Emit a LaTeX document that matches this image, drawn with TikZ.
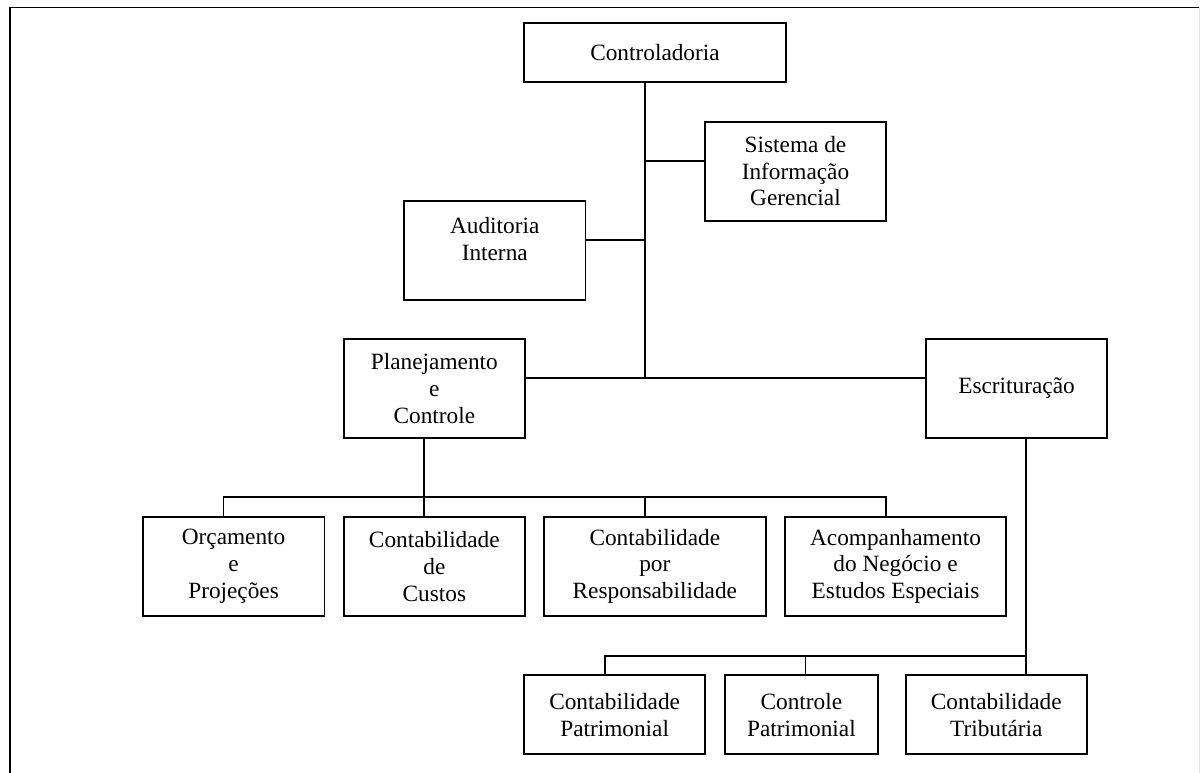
\documentclass[tikz,border=0pt]{standalone}
\usepackage{fontspec}
\setmainfont{Liberation Serif}
\begin{document}
\begin{tikzpicture}[x=1pt,y=-1pt,
  box/.style={draw,line width=1.8pt,inner sep=0pt,align=center,
    font=\fontsize{23.3}{26.7}\selectfont},
  link/.style={line width=1.8pt}]
\useasboundingbox (0,0) rectangle (1200,773);
% frame
\draw[line width=1.8pt] (9.6,773) -- (9.6,7.5) -- (1199,7.5);
\draw[line width=0.8pt,black!12] (1199,7.5) -- (1199,773);
% top level
\node[box,minimum width=262pt,minimum height=59pt] (ctrl) at (655,52.2) {Controladoria};
\node[box,minimum width=181pt,minimum height=99pt] (sig) at (795.5,171.2) {Sistema de\\Informação\\Gerencial};
\node[box,minimum width=181.5pt,minimum height=99.3pt] (aud) at (494.75,250.35) {};
\node[font=\fontsize{23.3}{26.7}\selectfont,align=center,inner sep=0pt] (audt) at (494.75,239) {Auditoria\\Interna};
\node[box,minimum width=181.3pt,minimum height=98.7pt] (plan) at (434.35,388.35) {Planejamento\\e\\Controle};
\node[box,minimum width=181pt,minimum height=98.7pt] (escr) at (1016.5,388.35) {Escrituração};
% second row
\node[box,minimum width=181.8pt,minimum height=99.3pt] (orc) at (233.6,566.35) {Orçamento\\e\\Projeções};
\node[box,minimum width=181.3pt,minimum height=99.3pt] (cus) at (434.35,566.35) {Contabilidade\\de\\Custos};
\node[box,minimum width=221.7pt,minimum height=99.3pt] (resp) at (654.85,566.35) {Contabilidade\\por\\Responsabilidade};
\node[box,minimum width=221pt,minimum height=99.3pt] (acom) at (895.5,566.35) {Acompanhamento\\do Negócio e\\Estudos Especiais};
% third row
\node[box,minimum width=180.7pt,minimum height=79pt] (cpat) at (614.65,714.8) {Contabilidade\\Patrimonial};
\node[box,minimum width=152.8pt,minimum height=79pt] (ctpat) at (801.4,714.8) {Controle\\Patrimonial};
\node[box,minimum width=181pt,minimum height=79pt] (trib) at (996.3,714.8) {Contabilidade\\Tributária};
% coordinates
\coordinate (t1) at (645,161);
\coordinate (t2) at (645,240);
\coordinate (t3) at (645,378);
\coordinate (b1) at (424,497.3);
\coordinate (b2) at (1026,655.7);
% trunk
\draw[link] (ctrl.south -| t1) -- (t3);
\draw[link] (t1) -- (t1 -| sig.west);
\draw[link] (t2) -- (t2 -| aud.east);
\draw[link] (plan.east |- t3) -- (escr.west |- t3);
% planejamento branch
\draw[link] (plan.south -| b1) -- (cus.north -| b1);
\draw[link] (223.5,516.7) -- (223.5,497.3) -- (886,497.3) -- (886,516.7);
\draw[link] (644.8,497.3) -- (resp.north -| 644.8,0);
% escrituracao branch
\draw[link] (escr.south -| b2) -- (trib.north -| b2);
\draw[link] (cpat.north -| 604.6,0) -- (604.6,655.7) -- (b2);
\draw[link] (805.5,655.7) -- (ctpat.north -| 805.5,0);
\end{tikzpicture}
\end{document}
